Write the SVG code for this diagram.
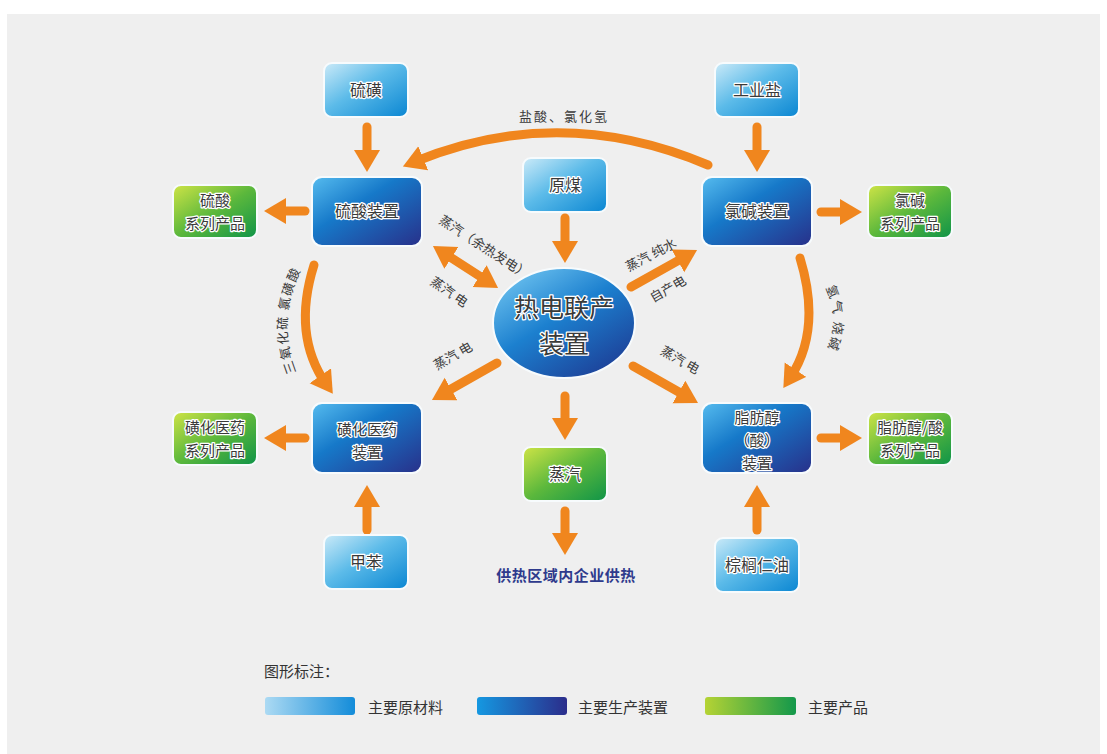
<svg xmlns="http://www.w3.org/2000/svg" width="1107" height="754" viewBox="0 0 1107 754">
<defs>
<linearGradient id="gRaw" x1="0" y1="0" x2="1" y2="1">
<stop offset="0" stop-color="#cbeaf8"/><stop offset="0.45" stop-color="#5cbbe9"/><stop offset="1" stop-color="#0a86d2"/>
</linearGradient>
<linearGradient id="gDev" x1="0" y1="0" x2="1" y2="1">
<stop offset="0" stop-color="#56bcef"/><stop offset="0.4" stop-color="#1679c9"/><stop offset="1" stop-color="#28308a"/>
</linearGradient>
<linearGradient id="gProd" x1="0" y1="0" x2="1" y2="1">
<stop offset="0" stop-color="#cfe446"/><stop offset="0.5" stop-color="#5cb83c"/><stop offset="1" stop-color="#0f9448"/>
</linearGradient>
<linearGradient id="gEll" x1="0.1" y1="0" x2="0.9" y2="1">
<stop offset="0" stop-color="#74c8f2"/><stop offset="0.45" stop-color="#1c80cf"/><stop offset="1" stop-color="#1d3790"/>
</linearGradient>
<linearGradient id="lRaw" x1="0" y1="0" x2="1" y2="0">
<stop offset="0" stop-color="#acdaf3"/><stop offset="1" stop-color="#138cd9"/>
</linearGradient>
<linearGradient id="lDev" x1="0" y1="0" x2="1" y2="0">
<stop offset="0" stop-color="#1598e1"/><stop offset="1" stop-color="#2b2d8b"/>
</linearGradient>
<linearGradient id="lProd" x1="0" y1="0" x2="1" y2="0">
<stop offset="0" stop-color="#b5d334"/><stop offset="1" stop-color="#13984b"/>
</linearGradient>
<marker id="ah" markerUnits="userSpaceOnUse" markerWidth="24" markerHeight="28" refX="10" refY="13" orient="auto-start-reverse">
<path d="M0,0 L22,13 L0,26 z" fill="#f0861e"/>
</marker>
<style>
.raw{fill:url(#gRaw);stroke:#f7fbfd;stroke-width:2}
.dev{fill:url(#gDev);stroke:#f7fbfd;stroke-width:2}
.prod{fill:url(#gProd);stroke:#f7fbfd;stroke-width:2}
.bt{font-family:"Noto Sans CJK SC","Noto Sans",sans-serif;font-size:16px;fill:#3a3a3a;stroke:#ffffff;stroke-width:2.5px;paint-order:stroke;stroke-linejoin:round;text-anchor:middle}
.bt2{font-size:15px}
.lb{font-family:"Noto Sans CJK SC","Noto Sans",sans-serif;font-size:13px;fill:#3a3a3a;text-anchor:middle}
.lg{font-family:"Noto Sans CJK SC","Noto Sans",sans-serif;font-size:15px;fill:#333}
.ar{stroke:#f0861e;stroke-width:9;fill:none;stroke-linecap:round;marker-end:url(#ah)}
.ar2{stroke:#f0861e;stroke-width:9;fill:none;stroke-linecap:round;marker-end:url(#ah);marker-start:url(#ah)}
</style>
</defs>
<rect x="0" y="0" width="1107" height="754" fill="#ffffff"/>
<rect x="7" y="14" width="1093" height="740" fill="#efefef"/>

<g id="connectors">
<line class="ar" x1="367" y1="127" x2="367" y2="160"/>
<line class="ar" x1="757" y1="127" x2="757" y2="160"/>
<line class="ar" x1="565" y1="218" x2="565" y2="251"/>
<line class="ar" x1="305" y1="211" x2="276" y2="211"/>
<line class="ar" x1="821" y1="212" x2="850" y2="212"/>
<line class="ar" x1="305" y1="438" x2="276" y2="438"/>
<line class="ar" x1="821" y1="438" x2="850" y2="438"/>
<line class="ar" x1="367" y1="530" x2="367" y2="497"/>
<line class="ar" x1="757" y1="530" x2="757" y2="497"/>
<line class="ar" x1="565" y1="396" x2="565" y2="428"/>
<line class="ar" x1="565" y1="511" x2="565" y2="543"/>
<line class="ar2" x1="443" y1="252.5" x2="488" y2="281.5"/>
<line class="ar" x1="631" y1="287" x2="686.6" y2="255.9"/>
<line class="ar" x1="497" y1="363" x2="442.4" y2="394"/>
<line class="ar" x1="633" y1="366" x2="687.6" y2="397"/>
<path class="ar" d="M708 165 Q560 102 414 162"/>
<path class="ar" d="M314 265 Q292 335 326 384"/>
<path class="ar" d="M800 258 Q822 330 790 378"/>
</g>

<g id="labels">
<text class="lb" font-size="14" letter-spacing="2" x="564" y="121">盐酸、氯化氢</text>
<text class="lb" transform="translate(484,247) rotate(33)" y="4.5">蒸汽（余热发电）</text>
<text class="lb" transform="translate(449,292) rotate(35)" y="4.5">蒸汽 电</text>
<text class="lb" transform="translate(651,255) rotate(-28)" y="4.5">蒸汽 纯水</text>
<text class="lb" transform="translate(668,289) rotate(-30)" y="4.5">自产电</text>
<text class="lb" transform="translate(453,356) rotate(-30)" y="4.5">蒸汽 电</text>
<text class="lb" transform="translate(680,360) rotate(30)" y="4.5">蒸汽 电</text>
<path id="pl" d="M300 380 Q272 322 305 262" fill="none"/>
<text class="lb" letter-spacing="1.5" style="text-anchor:middle"><textPath href="#pl" startOffset="50%">三氧化硫 氯磺酸</textPath></text>
<path id="pr" d="M820 278 Q846 318 822 360" fill="none"/>
<text class="lb" letter-spacing="2" style="text-anchor:middle"><textPath href="#pr" startOffset="50%">氢气 烧碱</textPath></text>
</g>

<g id="n-liuhuang"><rect class="raw" x="324" y="63" width="84" height="54" rx="8"/><text class="bt" x="366" y="96">硫磺</text></g>
<g id="n-gongyeyan"><rect class="raw" x="715" y="63" width="84" height="54" rx="8"/><text class="bt" x="757" y="96">工业盐</text></g>
<g id="n-yuanmei"><rect class="raw" x="523" y="158" width="84" height="54" rx="8"/><text class="bt" x="565" y="191">原煤</text></g>
<g id="n-jiaben"><rect class="raw" x="324" y="535" width="84" height="54" rx="8"/><text class="bt" x="366" y="568">甲苯</text></g>
<g id="n-zonglv"><rect class="raw" x="715" y="538" width="84" height="54" rx="8"/><text class="bt" x="757" y="571">棕榈仁油</text></g>

<g id="n-liusuan"><rect class="dev" x="312" y="177" width="110" height="69" rx="10"/><text class="bt" x="367" y="217">硫酸装置</text></g>
<g id="n-lujian"><rect class="dev" x="702" y="177" width="110" height="69" rx="10"/><text class="bt" x="757" y="217">氯碱装置</text></g>
<g id="n-huanghua"><rect class="dev" x="312" y="403" width="110" height="70" rx="10"/><text class="bt bt2" x="367" y="435">磺化医药</text><text class="bt bt2" x="367" y="458">装置</text></g>
<g id="n-zhifang"><rect class="dev" x="702" y="403" width="110" height="70" rx="10"/><text class="bt bt2" x="757" y="423">脂肪醇</text><text class="bt bt2" x="757" y="446">（酸）</text><text class="bt bt2" x="757" y="469">装置</text></g>

<g id="n-cogen"><ellipse cx="564" cy="323" rx="71" ry="55" fill="url(#gEll)" stroke="#f7fbfd" stroke-width="2"/><text class="bt" style="font-size:25px" x="564" y="317">热电联产</text><text class="bt" style="font-size:25px" x="564" y="353">装置</text></g>

<g id="n-p-liusuan"><rect class="prod" x="173" y="185" width="84" height="53" rx="8"/><text class="bt bt2" x="215" y="206">硫酸</text><text class="bt bt2" x="215" y="229">系列产品</text></g>
<g id="n-p-lujian"><rect class="prod" x="868" y="185" width="84" height="53" rx="8"/><text class="bt bt2" x="910" y="206">氯碱</text><text class="bt bt2" x="910" y="229">系列产品</text></g>
<g id="n-p-huanghua"><rect class="prod" x="173" y="412" width="84" height="53" rx="8"/><text class="bt bt2" x="215" y="433">磺化医药</text><text class="bt bt2" x="215" y="456">系列产品</text></g>
<g id="n-p-zhifang"><rect class="prod" x="868" y="412" width="84" height="53" rx="8"/><text class="bt bt2" x="910" y="433">脂肪醇/酸</text><text class="bt bt2" x="910" y="456">系列产品</text></g>
<g id="n-zhengqi"><rect class="prod" x="523" y="447" width="84" height="54" rx="8"/><text class="bt" x="565" y="480">蒸汽</text></g>

<g id="n-gongre"><text x="566" y="581" font-family="'Noto Sans CJK SC','Noto Sans',sans-serif" font-size="15" font-weight="bold" fill="#2e3a8c" text-anchor="middle" letter-spacing="0.5">供热区域内企业供热</text></g>

<g id="legend">
<text class="lg" x="264" y="677">图形标注：</text>
<rect x="265" y="697" width="90" height="18" rx="3" fill="url(#lRaw)"/>
<text class="lg" x="368" y="712.5">主要原材料</text>
<rect x="477" y="697" width="90" height="18" rx="3" fill="url(#lDev)"/>
<text class="lg" x="578" y="712.5">主要生产装置</text>
<rect x="705" y="697" width="91" height="18" rx="3" fill="url(#lProd)"/>
<text class="lg" x="808" y="712.5">主要产品</text>
</g>
</svg>
